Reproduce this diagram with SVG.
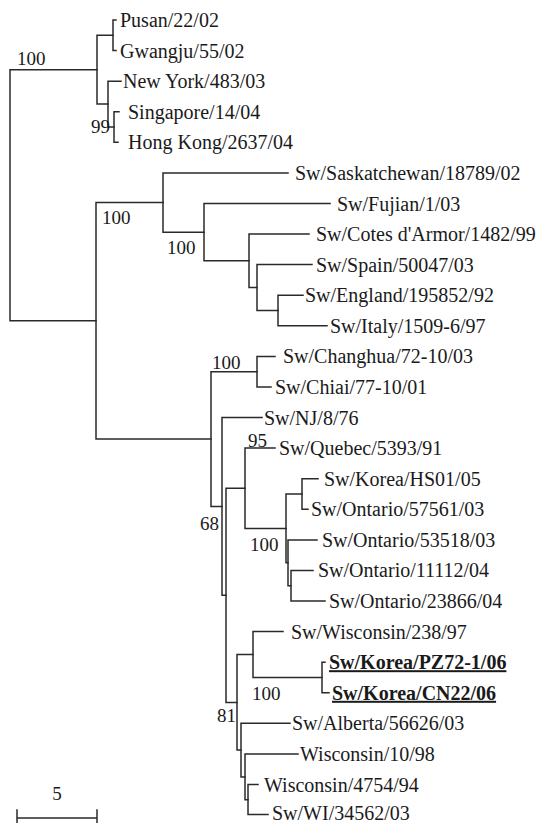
<svg xmlns="http://www.w3.org/2000/svg" width="539" height="823" viewBox="0 0 539 823">
<style>
.br{fill:none;stroke:#2a2a2a;stroke-width:1.5;stroke-linecap:square}
.lf{font-family:"Liberation Serif","Times New Roman",serif;font-size:20px;fill:#1a1a1a}
.bd{font-weight:bold;text-decoration:underline}
.bs{font-family:"Liberation Serif","Times New Roman",serif;font-size:19px;fill:#1a1a1a}
</style>
<rect width="539" height="823" fill="#fff"/>
<g id="connectors" class="br">
<path d="M10,69.7V320.8M10,69.7H97M10,320.8H96"/>
<path d="M97,35.3V104.1M97,35.3H113M97,104.1H108"/>
<path d="M113,20V50.6M113,20H116M113,50.6H116"/>
<path d="M108,81.2V127M108,81.2H121M108,127H114"/>
<path d="M114,111.7V142.3M114,111.7H119M114,142.3H118"/>
<path d="M96,202.5V439M96,202.5H163M96,439H211"/>
<path d="M163,172.9V232.2M163,172.9H288M163,232.2H204"/>
<path d="M204,203.5V260.8M204,203.5H330M204,260.8H249"/>
<path d="M249,234.1V287.6M249,234.1H309M249,287.6H257"/>
<path d="M257,264.6V310.5M257,264.6H312M257,310.5H278"/>
<path d="M278,295.2V325.8M278,295.2H303M278,325.8H327"/>
<path d="M211,371.7V506.4M211,371.7H257M211,506.4H222"/>
<path d="M257,356.4V387M257,356.4H275M257,387H271"/>
<path d="M222,417.5V595.3M222,417.5H262M222,595.3H226"/>
<path d="M226,488.3V702.4M226,488.3H245M226,702.4H237"/>
<path d="M245,448.1V528.4M245,448.1H275M245,528.4H286"/>
<path d="M286,494V562.8M286,494H302M286,562.8H288"/>
<path d="M302,478.7V509.3M302,478.7H318M302,509.3H308"/>
<path d="M288,539.9V585.7M288,539.9H317M288,585.7H291"/>
<path d="M291,570.4V601M291,570.4H313M291,601H325"/>
<path d="M237,654.6V750.1M237,654.6H253M237,750.1H241"/>
<path d="M253,631.6V677.5M253,631.6H283M253,677.5H322"/>
<path d="M322,662.2V692.8M322,662.2H325M322,692.8H329"/>
<path d="M241,723.3V776.9M241,723.3H290M241,776.9H245"/>
<path d="M245,753.9V799.8M245,753.9H298M245,799.8H248"/>
<path d="M248,784.5V814.5M248,784.5H258M248,814.5H268"/>
</g>
<g id="bootstrap" class="bs">
<text x="17" y="65">100</text>
<text x="91" y="133">99</text>
<text x="102" y="224">100</text>
<text x="167" y="254">100</text>
<text x="212" y="369">100</text>
<text x="248" y="447">95</text>
<text x="200" y="530">68</text>
<text x="250" y="551">100</text>
<text x="252" y="700">100</text>
<text x="217" y="722">81</text>
</g>
<g id="leaves" class="lf">
<g id="n-pusan"><text x="120" y="27">Pusan/22/02</text></g>
<g id="n-gwangju"><text x="120" y="57.6">Gwangju/55/02</text></g>
<g id="n-newyork"><text x="123" y="88.2">New York/483/03</text></g>
<g id="n-singapore"><text x="128" y="118.7">Singapore/14/04</text></g>
<g id="n-hongkong"><text x="128" y="149.3">Hong Kong/2637/04</text></g>
<g id="n-saskatchewan"><text x="295" y="179.9">Sw/Saskatchewan/18789/02</text></g>
<g id="n-fujian"><text x="337" y="210.5">Sw/Fujian/1/03</text></g>
<g id="n-cotes"><text x="316" y="241.1">Sw/Cotes d'Armor/1482/99</text></g>
<g id="n-spain"><text x="316" y="271.6">Sw/Spain/50047/03</text></g>
<g id="n-england"><text x="305" y="302.2">Sw/England/195852/92</text></g>
<g id="n-italy"><text x="330" y="332.8">Sw/Italy/1509-6/97</text></g>
<g id="n-changhua"><text x="283" y="363.4">Sw/Changhua/72-10/03</text></g>
<g id="n-chiai"><text x="275" y="394">Sw/Chiai/77-10/01</text></g>
<g id="n-nj"><text x="264" y="424.5">Sw/NJ/8/76</text></g>
<g id="n-quebec"><text x="279" y="455.1">Sw/Quebec/5393/91</text></g>
<g id="n-koreahs01"><text x="324" y="485.7">Sw/Korea/HS01/05</text></g>
<g id="n-ontario57561"><text x="311" y="516.3">Sw/Ontario/57561/03</text></g>
<g id="n-ontario53518"><text x="322" y="546.9">Sw/Ontario/53518/03</text></g>
<g id="n-ontario11112"><text x="318" y="577.4">Sw/Ontario/11112/04</text></g>
<g id="n-ontario23866"><text x="329" y="608">Sw/Ontario/23866/04</text></g>
<g id="n-wisconsin238"><text x="291" y="638.6">Sw/Wisconsin/238/97</text></g>
<g id="n-koreapz72"><text class="bd" x="329" y="669.2">Sw/Korea/PZ72-1/06</text></g>
<g id="n-koreacn22"><text class="bd" x="332" y="699.8">Sw/Korea/CN22/06</text></g>
<g id="n-alberta"><text x="292" y="730.3">Sw/Alberta/56626/03</text></g>
<g id="n-wisconsin10"><text x="300" y="760.9">Wisconsin/10/98</text></g>
<g id="n-wisconsin4754"><text x="264" y="791.5">Wisconsin/4754/94</text></g>
<g id="n-wi34562"><text x="272" y="820">Sw/WI/34562/03</text></g>
</g>
<g id="scalebar">
<path class="br" d="M17,818H97M17,810V826M97,810V826"/>
<text class="bs" x="57" y="800" text-anchor="middle">5</text>
</g>
</svg>
